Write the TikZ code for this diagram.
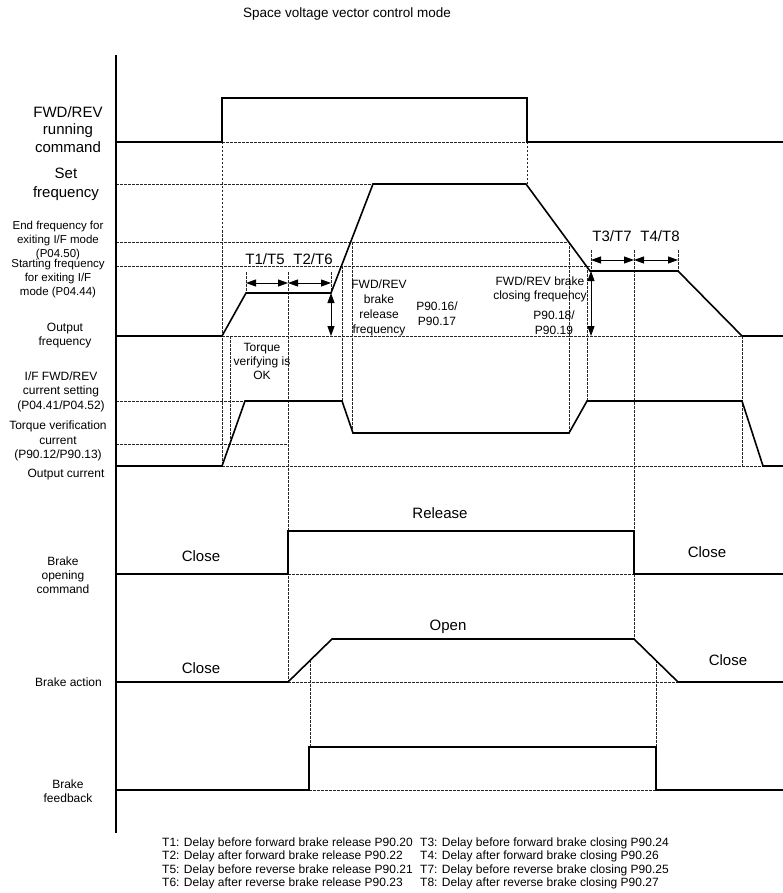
\documentclass[tikz,border=0pt]{standalone}
\usepackage{fontspec}
\setmainfont{Liberation Sans}
\usetikzlibrary{arrows.meta}
\begin{document}
\begin{tikzpicture}[x=1pt,y=-1pt,
  sig/.style={line width=1.6pt, line join=miter},
  guide/.style={line width=0.6pt, dash pattern=on 2.5pt off 1.5pt, black!85},
  axisline/.style={line width=1.1pt},
  dimarrow/.style={line width=0.9pt, {Triangle[length=10pt,width=7pt]}-{Triangle[length=10pt,width=7pt]}},
  bigtxt/.style={font=\fontsize{15}{17.5}\selectfont, align=center, inner sep=0pt},
  bigtxtb/.style={font=\fontsize{15}{18.5}\selectfont, align=center, inner sep=0pt},
  smalltxt/.style={font=\fontsize{12}{14.2}\selectfont, align=center, inner sep=0pt},
  smalltxtw/.style={font=\fontsize{12}{14.8}\selectfont, align=center, inner sep=0pt},
  tinytxt/.style={font=\fontsize{11.5}{13.8}\selectfont, align=center, inner sep=0pt},
  legend/.style={font=\fontsize{12}{13.6}\selectfont, anchor=west, inner sep=0pt},
  titletxt/.style={font=\fontsize{13.5}{16}\selectfont, inner sep=0pt}
]
\useasboundingbox (0,0) rectangle (783,893);

% ---------- guide lines (dashed) ----------
% horizontal
\draw[guide] (222,142) -- (527,142);
\draw[guide] (116,184) -- (373,184);
\draw[guide] (116,242) -- (569,242);
\draw[guide] (116,266) -- (590,266);
\draw[guide] (222,336) -- (742,336);
\draw[guide] (116,401) -- (245,401);
\draw[guide] (116,444) -- (288,444);
\draw[guide] (222,466) -- (763,466);
\draw[guide] (288,574) -- (634,574);
\draw[guide] (288,682) -- (678,682);
\draw[guide] (309,790) -- (656,790);
% vertical
\draw[guide] (222,142) -- (222,466);
\draw[guide] (230,336) -- (230,444);
\draw[guide] (246,272) -- (246,293);
\draw[guide] (288,272) -- (288,682);
\draw[guide] (331,272) -- (331,293);
\draw[guide] (342,266) -- (342,401);
\draw[guide] (352,242) -- (352,433);
\draw[guide] (527,142) -- (527,184);
\draw[guide] (569,242) -- (569,433);
\draw[guide] (587,266) -- (587,401);
\draw[guide] (591,250) -- (591,271);
\draw[guide] (634,250) -- (634,639);
\draw[guide] (678,250) -- (678,271);
\draw[guide] (742,336) -- (742,466);
\draw[guide] (310,660) -- (310,747);
\draw[guide] (656,660) -- (656,747);

% ---------- axis ----------
\draw[axisline] (116,55) -- (116,833);

% ---------- signals ----------
% FWD/REV running command
\draw[sig] (116,142) -- (222,142) -- (222,98) -- (527,98) -- (527,142) -- (783,142);
% Output frequency
\draw[sig] (116,336) -- (222,336) -- (246,293) -- (331,293) -- (373,184) -- (526,184)
  -- (590,271) -- (678,271) -- (742,336) -- (783,336);
% Output current
\draw[sig] (116,466) -- (222,466) -- (245,401) -- (342,401) -- (353,433) -- (569,433)
  -- (587,401) -- (742,401) -- (763,466) -- (783,466);
% Brake opening command
\draw[sig] (116,574) -- (288,574) -- (288,531) -- (634,531) -- (634,574) -- (783,574);
% Brake action
\draw[sig] (116,682) -- (288,682) -- (332,639) -- (634,639) -- (678,682) -- (783,682);
% Brake feedback
\draw[sig] (116,790) -- (309,790) -- (309,747) -- (656,747) -- (656,790) -- (783,790);

% ---------- dimension arrows ----------
\coordinate (t1a) at (246,283);
\coordinate (t1b) at (288,283);
\coordinate (t2b) at (331,283);
\coordinate (t3a) at (591,260);
\coordinate (t3b) at (634,260);
\coordinate (t4b) at (678,260);
\coordinate (rf1) at (331,293);
\coordinate (rf2) at (331,336);
\coordinate (cf1) at (591,271);
\coordinate (cf2) at (591,336);
\draw[dimarrow] (t1a) -- (t1b);
\draw[dimarrow] (t1b) -- (t2b);
\draw[dimarrow] (t3a) -- (t3b);
\draw[dimarrow] (t3b) -- (t4b);
\draw[dimarrow] (rf1) -- (rf2);
\draw[dimarrow] (cf1) -- (cf2);

% ---------- title ----------
\node[titletxt] (title) at (347,14) {Space voltage vector control mode};

% ---------- left labels ----------
\node[bigtxt] (lfwd) at (68,129.5) {FWD/REV\\running\\command};
\node[bigtxtb] (lset) at (66,184.5) {Set\\frequency};
\node[tinytxt] (lend) at (58,240.5) {End frequency for\\exiting I/F mode\\(P04.50)};
\node[tinytxt] (lstart) at (58,278.5) {Starting frequency\\for exiting I/F\\mode (P04.44)};
\node[smalltxt] (lofreq) at (65,335.5) {Output\\frequency};
\node[smalltxt] (lifcur) at (61,391.7) {I/F FWD/REV\\current setting\\(P04.41/P04.52)};
\node[smalltxt] (ltorque) at (58,441) {Torque verification\\current\\(P90.12/P90.13)};
\node[smalltxt] (locur) at (66,475) {Output current};
\node[smalltxt] (lbcmd) at (63,575) {Brake\\opening\\command};
\node[smalltxt] (lbact) at (68.5,682) {Brake action};
\node[smalltxt] (lbfb) at (68,791) {Brake\\feedback};

% ---------- inner labels ----------
\node[font=\fontsize{15}{17}\selectfont, inner sep=0pt] (lt1) at (265,259) {T1/T5};
\node[font=\fontsize{15}{17}\selectfont, inner sep=0pt] (lt2) at (313,259) {T2/T6};
\node[font=\fontsize{15}{17}\selectfont, inner sep=0pt] (lt3) at (612,236) {T3/T7};
\node[font=\fontsize{15}{17}\selectfont, inner sep=0pt] (lt4) at (660,236) {T4/T8};

\node[smalltxt] (ltv) at (262,361.5) {Torque\\verifying is\\OK};
\node[smalltxtw] (lrel) at (379,308) {FWD/REV\\brake\\release\\frequency};
\node[smalltxtw] (lp1617) at (437,313.5) {P90.16/\\P90.17};
\node[smalltxt] (lclo) at (540,289.5) {FWD/REV brake\\closing frequency};
\node[smalltxtw] (lp1819) at (554,322.5) {P90.18/\\P90.19};

\node[font=\fontsize{15}{17}\selectfont, inner sep=0pt] (sclose1) at (201,556) {Close};
\node[font=\fontsize{15}{17}\selectfont, inner sep=0pt] (srelease) at (440,513) {Release};
\node[font=\fontsize{15}{17}\selectfont, inner sep=0pt] (sclose2) at (707,552) {Close};
\node[font=\fontsize{15}{17}\selectfont, inner sep=0pt] (sclose3) at (201,668) {Close};
\node[font=\fontsize{15}{17}\selectfont, inner sep=0pt] (sopen) at (448,627) {Open};
\node[font=\fontsize{15}{17}\selectfont, inner sep=0pt] (sclose4) at (728,660) {Close};

% ---------- legend ----------
\node[legend] (g1) at (162,843) {T1: Delay before forward brake release P90.20};
\node[legend] (g2) at (162,856.5) {T2: Delay after forward brake release P90.22};
\node[legend] (g3) at (162,870) {T5: Delay before reverse brake release P90.21};
\node[legend] (g4) at (162,883.5) {T6: Delay after reverse brake release P90.23};
\node[legend] (g5) at (420,843) {T3: Delay before forward brake closing P90.24};
\node[legend] (g6) at (420,856.5) {T4: Delay after forward brake closing P90.26};
\node[legend] (g7) at (420,870) {T7: Delay before reverse brake closing P90.25};
\node[legend] (g8) at (420,883.5) {T8: Delay after reverse brake closing P90.27};
\end{tikzpicture}
\end{document}
